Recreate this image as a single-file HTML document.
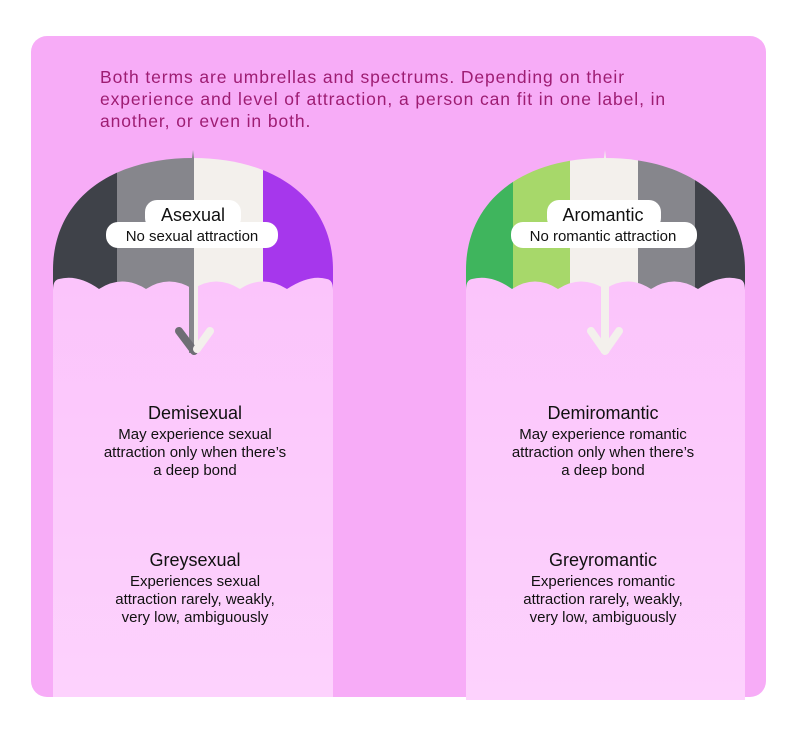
<!DOCTYPE html>
<html><head><meta charset="utf-8"><style>
body{margin:0;background:#fff;}
svg{display:block;font-family:"Liberation Sans",sans-serif;}
</style></head><body>
<svg width="800" height="746" viewBox="0 0 800 746" xmlns="http://www.w3.org/2000/svg">
<defs>
<linearGradient id="col" x1="0" y1="0" x2="0" y2="1">
<stop offset="0" stop-color="#fbc4fb"/><stop offset="1" stop-color="#fdd2fd"/>
</linearGradient>
<clipPath id="domeL"><path d="M53,300 L53,270 C53,200 110,158 193,158 C276,158 333,200 333,270 L333,300 Z"/></clipPath>
<clipPath id="domeR"><path d="M466,300 L466,270 C466,200 523,158 605,158 C688,158 745,200 745,270 L745,300 Z"/></clipPath>
</defs>
<rect x="31" y="36" width="735" height="661" rx="16" fill="#f7acf7"/>
<g fill="#9e1d73" font-size="17.5" letter-spacing="0.9">
<text x="100" y="83">Both terms are umbrellas and spectrums. Depending on their</text>
<text x="100" y="105">experience and level of attraction, a person can fit in one label, in</text>
<text x="100" y="127">another, or even in both.</text>
</g>
<!-- left umbrella -->
<path d="M192,158 L193,150 L194,158 Z" fill="#86868c"/>
<g clip-path="url(#domeL)">
<rect x="53" y="150" width="64" height="150" fill="#3f4249"/>
<rect x="117" y="150" width="77" height="150" fill="#86868c"/>
<rect x="194" y="150" width="69" height="150" fill="#f3f0ec"/>
<rect x="263" y="150" width="70" height="150" fill="#a637ec"/>
</g>
<path d="M53,290 Q53,280 59,279 Q78,274 99,289 Q122,274 146,289 Q169,274 193,289 Q216,274 240,289 Q263,274 287,289 Q310,274 327,279 Q333,280 333,290 L333,697 L53,697 Z" fill="url(#col)"/>
<rect x="189" y="285" width="5" height="68" fill="#86868c"/>
<rect x="194" y="285" width="4" height="68" fill="#f3f0ec"/>
<path d="M179,331 L194,351" stroke="#6e6e74" stroke-width="8" stroke-linecap="round"/>
<path d="M210,331 L197,349" stroke="#f3f0ec" stroke-width="8" stroke-linecap="round"/>
<rect x="145" y="200" width="96" height="30" rx="12" fill="#fff"/>
<rect x="106" y="222" width="172" height="26" rx="12" fill="#fff"/>
<text x="193" y="221" text-anchor="middle" font-size="18" fill="#111">Asexual</text>
<text x="192" y="241" text-anchor="middle" font-size="15" fill="#111">No sexual attraction</text>
<!-- right umbrella -->
<path d="M604,158 L605,150 L606,158 Z" fill="#f3f0ec"/>
<g clip-path="url(#domeR)">
<rect x="466" y="150" width="47" height="150" fill="#3fb55d"/>
<rect x="513" y="150" width="57" height="150" fill="#a7d86a"/>
<rect x="570" y="150" width="68" height="150" fill="#f3f0ec"/>
<rect x="638" y="150" width="57" height="150" fill="#86868c"/>
<rect x="695" y="150" width="50" height="150" fill="#3f4249"/>
</g>
<path d="M466,290 Q466,280 472,279 Q491,274 512,289 Q535,274 558,289 Q581,274 605,289 Q628,274 651,289 Q674,274 698,289 Q721,274 739,279 Q745,280 745,290 L745,700 L466,700 Z" fill="url(#col)"/>
<rect x="601" y="285" width="8" height="68" fill="#f3f0ec"/>
<path d="M591,331 L605,351 L619,331" stroke="#f3f0ec" stroke-width="8" stroke-linecap="round" stroke-linejoin="round" fill="none"/>
<rect x="547" y="200" width="114" height="30" rx="12" fill="#fff"/>
<rect x="511" y="222" width="186" height="26" rx="12" fill="#fff"/>
<text x="603" y="221" text-anchor="middle" font-size="18" fill="#111">Aromantic</text>
<text x="603" y="241" text-anchor="middle" font-size="15" fill="#111">No romantic attraction</text>
<!-- texts -->
<g fill="#111" text-anchor="middle">
<text x="195" y="419" font-size="18">Demisexual</text>
<text x="195" y="439" font-size="15">May experience sexual</text>
<text x="195" y="457" font-size="15">attraction only when there’s</text>
<text x="195" y="475" font-size="15">a deep bond</text>
<text x="195" y="566" font-size="18">Greysexual</text>
<text x="195" y="586" font-size="15">Experiences sexual</text>
<text x="195" y="604" font-size="15">attraction rarely, weakly,</text>
<text x="195" y="622" font-size="15">very low, ambiguously</text>
<text x="603" y="419" font-size="18">Demiromantic</text>
<text x="603" y="439" font-size="15">May experience romantic</text>
<text x="603" y="457" font-size="15">attraction only when there’s</text>
<text x="603" y="475" font-size="15">a deep bond</text>
<text x="603" y="566" font-size="18">Greyromantic</text>
<text x="603" y="586" font-size="15">Experiences romantic</text>
<text x="603" y="604" font-size="15">attraction rarely, weakly,</text>
<text x="603" y="622" font-size="15">very low, ambiguously</text>
</g>
</svg>
</body></html>
